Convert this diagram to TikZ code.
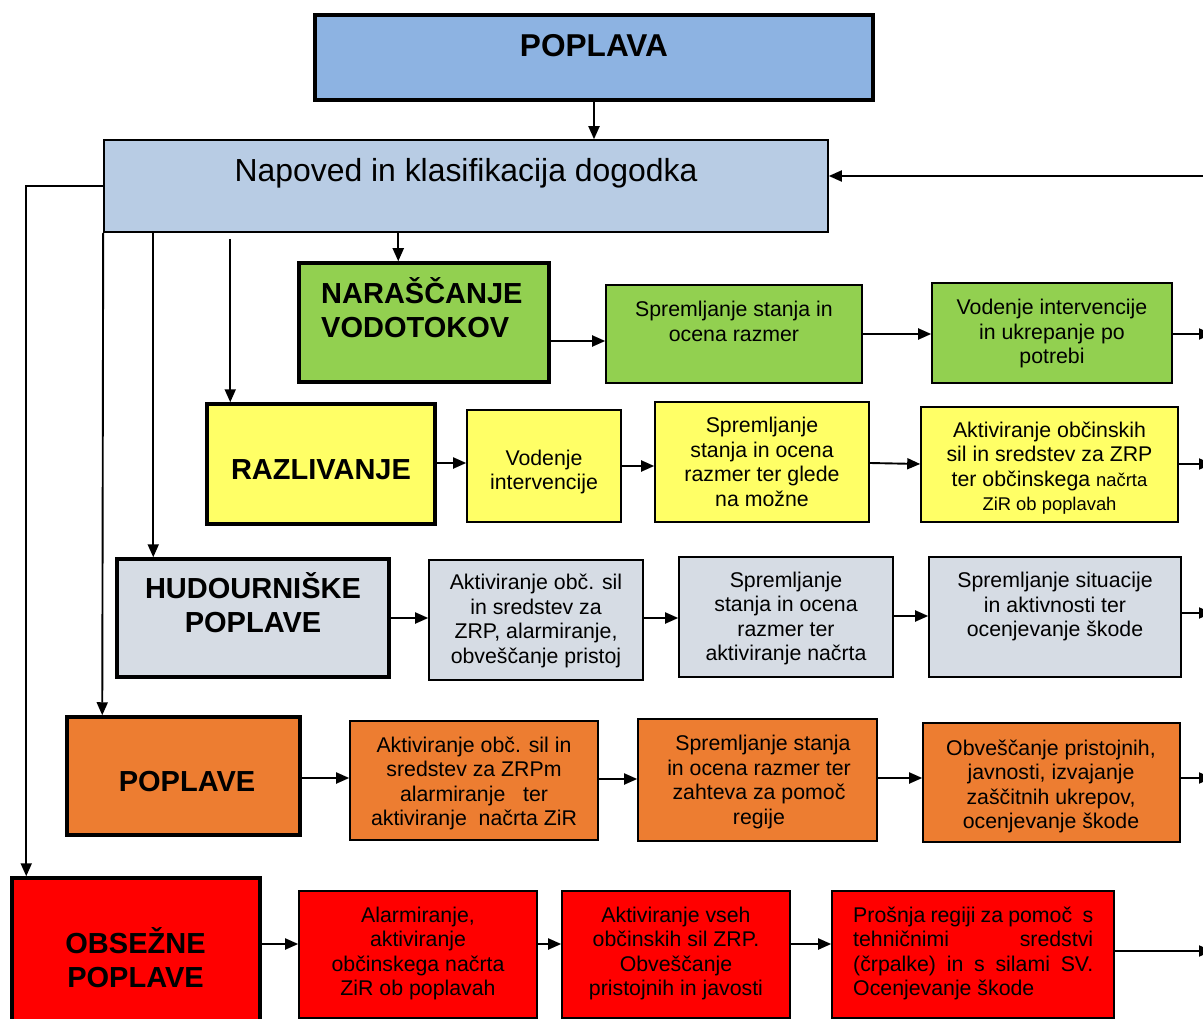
\documentclass[tikz,border=0pt]{standalone}
\usepackage{fontspec}
\setmainfont{Liberation Sans}
\usetikzlibrary{arrows.meta,calc}
\definecolor{cTop}{HTML}{8DB3E2}
\definecolor{cNap}{HTML}{B8CCE4}
\definecolor{cGreen}{HTML}{92D050}
\definecolor{cYellow}{HTML}{FFFF66}
\definecolor{cGray}{HTML}{D6DCE4}
\definecolor{cOrange}{HTML}{ED7D31}
\definecolor{cRed}{HTML}{FF0000}
\newcommand{\bodyfont}{\fontsize{21.3}{24.5}\selectfont}
\newcommand{\smallfnt}{\fontsize{18.4}{24.5}\selectfont}
\newcommand{\headfont}{\fontsize{29}{34}\selectfont\bfseries}
\begin{document}
\begin{tikzpicture}[x=1pt,y=-1pt,
  thinbox/.style={draw=black, line width=1.6pt, inner sep=0pt},
  thickbox/.style={draw=black, line width=3.5pt, inner sep=0pt},
  txt/.style={inner sep=0pt, align=center, font=\bodyfont},
  head/.style={inner sep=0pt, align=center, font=\headfont},
  arr/.style={line width=1.9pt, -{Triangle[length=13pt,width=11pt]}}]
\useasboundingbox (0,0) rectangle (1203,1019);
\clip (0,0) rectangle (1203,1019);

% top boxes
\node[thickbox, fill=cTop, minimum width=558pt, minimum height=85pt] (top) at (594,57.5) {};
\node[inner sep=0pt, font=\fontsize{31.6}{36}\selectfont\bfseries] (topT) at (594,46) {POPLAVA};
\node[thinbox, fill=cNap, minimum width=724pt, minimum height=92pt] (nap) at (466,186) {};
\node[inner sep=0pt, font=\fontsize{31.9}{36}\selectfont] (napT) at (466,173) {Napoved in klasifikacija dogodka};

% row 1 green
\node[thickbox, fill=cGreen, minimum width=250pt, minimum height=119pt] (n1) at (424,322.5) {};
\node[head, align=left, anchor=west] (n1T) at (321,308) {NARAŠČANJE\\VODOTOKOV};
\node[thinbox, fill=cGreen, minimum width=256pt, minimum height=98pt] (g2) at (734,334) {};
\node[txt] (g2T) at (734,321.5) {Spremljanje stanja in\\ocena razmer};
\node[thinbox, fill=cGreen, minimum width=240pt, minimum height=100pt] (g3) at (1052,333) {};
\node[txt] (g3T) at (1052,333.5) {Vodenje intervencije\\in ukrepanje po\\potrebi};

% row 2 yellow
\node[thickbox, fill=cYellow, minimum width=228pt, minimum height=120pt] (r1) at (321,464) {};
\node[head] (r1T) at (321,470) {RAZLIVANJE};
\node[thinbox, fill=cYellow, minimum width=154pt, minimum height=112pt] (y2) at (544,466) {};
\node[txt] (y2T) at (544,472) {Vodenje\\intervencije};
\node[thinbox, fill=cYellow, minimum width=214pt, minimum height=120pt] (y3) at (762,462) {};
\node[txt] (y3T) at (762,462) {Spremljanje\\stanja in ocena\\razmer ter glede\\na možne};
\node[thinbox, fill=cYellow, minimum width=257pt, minimum height=115pt] (y4) at (1049.5,464.5) {};
\node[txt] (y4T) at (1049.5,468) {Aktiviranje občinskih\\sil in sredstev za ZRP\\ter občinskega {\smallfnt načrta}\\{\smallfnt ZiR ob poplavah}};

% row 3 gray
\node[thickbox, fill=cGray, minimum width=272pt, minimum height=118pt] (h1) at (253,618) {};
\node[head] (h1T) at (253,603) {HUDOURNIŠKE\\POPLAVE};
\node[thinbox, fill=cGray, minimum width=214pt, minimum height=120pt] (h2) at (536,620) {};
\node[txt] (h2T) at (536,621) {Aktiviranje obč. sil\\in sredstev za\\ZRP, alarmiranje,\\obveščanje pristoj};
\node[thinbox, fill=cGray, minimum width=214pt, minimum height=120pt] (h3) at (786,617) {};
\node[txt] (h3T) at (786,618.5) {Spremljanje\\stanja in ocena\\razmer ter\\aktiviranje načrta};
\node[thinbox, fill=cGray, minimum width=252pt, minimum height=120pt] (h4) at (1055,617) {};
\node[txt] (h4T) at (1055,606.5) {Spremljanje situacije\\in aktivnosti ter\\ocenjevanje škode};

% row 4 orange
\node[thickbox, fill=cOrange, minimum width=233pt, minimum height=118pt] (p1) at (183.5,776) {};
\node[head] (p1T) at (187,782) {POPLAVE};
\node[thinbox, fill=cOrange, minimum width=248pt, minimum height=119pt] (p2) at (474,780.5) {};
\node[txt] (p2T) at (474,783.5) {Aktiviranje obč. sil in\\sredstev za ZRPm\\alarmiranje \ \ ter\\aktiviranje \ načrta ZiR};
\node[thinbox, fill=cOrange, minimum width=239pt, minimum height=122pt] (p3) at (757.5,780) {};
\node[txt] (p3T) at (759,782) {\hspace{8pt}Spremljanje stanja\\in ocena razmer ter\\zahteva za pomoč\\regije};
\node[thinbox, fill=cOrange, minimum width=257pt, minimum height=119pt] (p4) at (1051.5,782.5) {};
\node[txt] (p4T) at (1051,786.5) {Obveščanje pristojnih,\\javnosti, izvajanje\\zaščitnih ukrepov,\\ocenjevanje škode};

% row 5 red
\node[thickbox, fill=cRed, minimum width=248pt, minimum height=147pt] (o1) at (136,951.5) {};
\node[head] (o1T) at (135.5,958) {OBSEŽNE\\POPLAVE};
\node[thinbox, fill=cRed, minimum width=238pt, minimum height=127pt] (o2) at (418,954.5) {};
\node[txt] (o2T) at (418,953.5) {Alarmiranje,\\aktiviranje\\občinskega načrta\\ZiR ob poplavah};
\node[thinbox, fill=cRed, minimum width=228pt, minimum height=127pt] (o3) at (676,954.5) {};
\node[txt] (o3T) at (676,953.5) {Aktiviranje vseh\\občinskih sil ZRP.\\Obveščanje\\pristojnih in javosti};
\node[thinbox, fill=cRed, minimum width=282pt, minimum height=127pt] (o4) at (973,954.5) {};
\node[txt, align=left, anchor=west] (o4T) at (853,953.5) {\makebox[240pt][s]{Prošnja regiji za pomoč \ s}\\\makebox[240pt][s]{tehničnimi sredstvi}\\\makebox[240pt][s]{(črpalke) in s silami SV.}\\Ocenjevanje škode};

% connectors from the top
\draw[arr] (top.south) -- (top.south |- nap.north);
\coordinate (fb) at (1212,176);
\draw[arr] (fb) -- (fb -| nap.east);
\coordinate (obsIn) at ([xshift=16pt]o1.north west);
\draw[arr] (nap.west) -| (obsIn);
\coordinate (popIn) at ([xshift=37pt]p1.north west);
\draw[arr] (nap.south west) -- (popIn);
\coordinate (hudIn) at ([xshift=38pt]h1.north west);
\draw[arr] (nap.south -| hudIn) -- (hudIn);
\coordinate (razIn) at ([xshift=25pt]r1.north west);
\coordinate (razTop) at ($(nap.south -| razIn)+(0,6)$);
\draw[arr] (razTop) -- (razIn);
\coordinate (narIn) at ([xshift=101pt]n1.north west);
\draw[arr] (nap.south -| narIn) -- (narIn);

% right edge targets
\coordinate (e1) at (1212,334);
\coordinate (e2) at (1212,464);
\coordinate (e3) at (1212,613);
\coordinate (e4) at (1212,778);
\coordinate (e5) at (1212,951);

% row arrows
\draw[arr] (n1.east |- 0,341) -- (g2.west |- 0,341);
\draw[arr] (g2.east |- 0,334) -- (g3.west |- 0,334);
\draw[arr] (g3.east |- e1) -- (e1);

\draw[arr] (r1.east |- 0,463) -- (y2.west |- 0,463);
\draw[arr] (y2.east |- 0,466) -- (y3.west |- 0,466);
\draw[arr] (y3.east |- 0,463) -- (y4.west |- 0,464);
\draw[arr] (y4.east |- e2) -- (e2);

\draw[arr] (h1.east |- 0,618) -- (h2.west |- 0,618);
\draw[arr] (h2.east |- 0,618) -- (h3.west |- 0,618);
\draw[arr] (h3.east |- 0,616) -- (h4.west |- 0,616);
\draw[arr] (h4.east |- e3) -- (e3);

\draw[arr] (p1.east |- 0,778) -- (p2.west |- 0,778);
\draw[arr] (p2.east |- 0,779) -- (p3.west |- 0,779);
\draw[arr] (p3.east |- 0,778) -- (p4.west |- 0,778);
\draw[arr] (p4.east |- e4) -- (e4);

\draw[arr] (o1.east |- 0,944) -- (o2.west |- 0,944);
\draw[arr] (o2.east |- 0,944) -- (o3.west |- 0,944);
\draw[arr] (o3.east |- 0,944) -- (o4.west |- 0,944);
\draw[arr] (o4.east |- e5) -- (e5);
\end{tikzpicture}
\end{document}
